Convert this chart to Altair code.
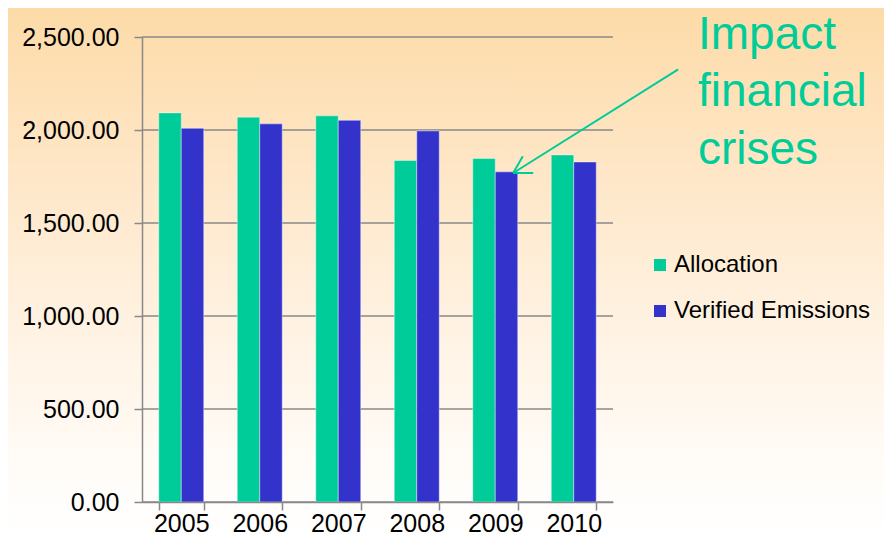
import altair as alt
import pandas as pd

# ---- data ----
years = ["2005", "2006", "2007", "2008", "2009", "2010"]
allocation = [2092, 2069, 2076, 1836, 1847, 1866]
verified = [2009, 2033, 2052, 1995, 1775, 1828]
series = ["Allocation", "Verified Emissions"]
colors = ["#00CC99", "#3333CC"]
y_ticks = [0, 500, 1000, 1500, 2000, 2500]
annotation = ["Impact", "financial", "crises"]

# ---- layout ----
W, H = 471, 465
PL, PT, PR, PB = 134, 29, 271, 35
FONT = "Liberation Sans"
GREY = "#888888"
ANN = "#00CC99"

rows = []
for yr, a, v in zip(years, allocation, verified):
    rows.append({"year": yr, "series": series[0], "value": a})
    rows.append({"year": yr, "series": series[1], "value": v})
df = pd.DataFrame(rows)

yscale = alt.Scale(domain=[0, 2500], nice=False)
yaxis = alt.Axis(values=y_ticks, format=",.2f", labelFontSize=25, labelFont=FONT,
                 labelColor="black", labelPadding=15, tickSize=8, tickColor=GREY,
                 tickWidth=1.5, domainColor=GREY, domainWidth=1.5, grid=False,
                 zindex=1, title=None)

bg = alt.Chart(pd.DataFrame({"k": [0]})).mark_rect(
    fill=alt.LinearGradient(
        gradient="linear",
        stops=[alt.GradientStop(color="#FDDBA8", offset=0),
               alt.GradientStop(color="#FEE6C6", offset=0.3),
               alt.GradientStop(color="#FFF2E2", offset=0.6),
               alt.GradientStop(color="#FFFBF6", offset=0.85),
               alt.GradientStop(color="#FFFFFF", offset=1)],
        x1=0, x2=0, y1=0, y2=1),
).encode(x=alt.value(-PL), x2=alt.value(W + PR), y=alt.value(-PT), y2=alt.value(H + PB))

grid = alt.Chart(pd.DataFrame({"v": y_ticks})).mark_rule(
    color=GREY, strokeWidth=1.5
).encode(
    y=alt.Y("v:Q", scale=yscale, axis=yaxis),
    x=alt.value(0), x2=alt.value(W),
)

bars = alt.Chart(df).mark_bar(stroke="#FFFFFF", strokeWidth=0.8, strokeOpacity=0.5).encode(
    x=alt.X("year:N", sort=years, title=None,
            scale=alt.Scale(paddingInner=0.427, paddingOuter=0.2135),
            axis=alt.Axis(tickBand="extent", labelAngle=0, labelFontSize=25, labelFont=FONT,
                          labelColor="black", labelBaseline="alphabetic", labelPadding=21,
                          tickSize=8, tickColor=GREY,
                          tickWidth=1.5, domainColor=GREY, domainWidth=1.5, grid=False,
                          zindex=1)),
    xOffset=alt.XOffset("series:N", sort=series,
                        scale=alt.Scale(paddingInner=0, paddingOuter=0)),
    y=alt.Y("value:Q", scale=yscale, axis=yaxis),
    color=alt.Color("series:N", sort=series,
                    scale=alt.Scale(domain=series, range=colors),
                    legend=alt.Legend(orient="none", legendX=506, legendY=216, title=None,
                                      symbolType="square", symbolSize=144,
                                      symbolStrokeWidth=0, labelFontSize=24,
                                      labelFont=FONT, labelColor="black", labelLimit=400,
                                      rowPadding=22, labelOffset=2, zindex=1)),
)

# arrow annotation (pixel positions in plot coordinates)
segs = [((536.2, 32.3), (371.2, 136.0)),
        ((371.2, 136.0), (380.8, 119.3)),
        ((371.2, 136.0), (391.2, 136.0))]
arrow_layers = []
for (x1, y1), (x2, y2) in segs:
    arrow_layers.append(
        alt.Chart(pd.DataFrame({"k": [0]})).mark_rule(color=ANN, strokeWidth=2).encode(
            x=alt.value(x1), y=alt.value(y1), x2=alt.value(x2), y2=alt.value(y2))
    )

text = alt.Chart(pd.DataFrame({"k": [0]})).mark_text(
    text=annotation, fontSize=46, lineHeight=57.5, align="left", baseline="alphabetic",
    color=ANN, font=FONT,
).encode(x=alt.value(556), y=alt.value(11.6))

chart = alt.layer(bg, grid, bars, *arrow_layers, text).properties(
    width=W, height=H, autosize="none",
    padding={"left": PL, "top": PT, "right": PR, "bottom": PB},
).configure_view(stroke=None).configure(background="#FFFFFF")

chart.save("out.html", embed_options={"renderer": "svg", "actions": False})
